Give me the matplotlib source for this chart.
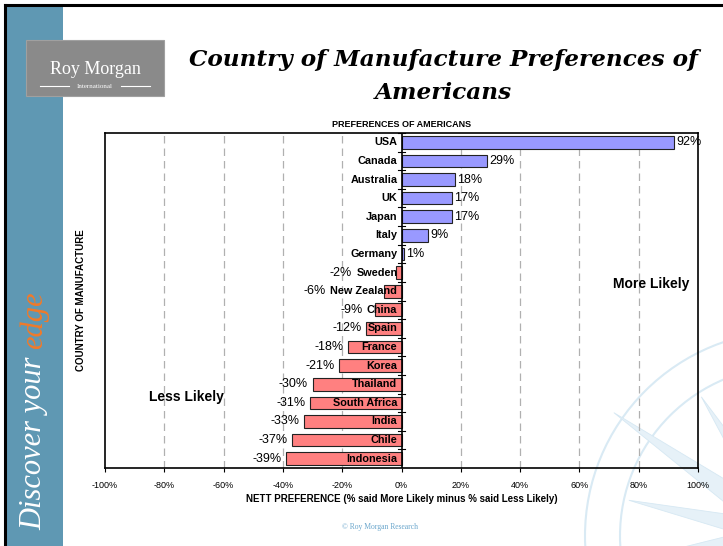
import numpy as np
import matplotlib
matplotlib.use("Agg")
import matplotlib.pyplot as plt
from matplotlib.patches import Rectangle, Polygon, Circle
from matplotlib.lines import Line2D

countries = ["USA", "Canada", "Australia", "UK", "Japan", "Italy", "Germany",
             "Sweden", "New Zealand", "China", "Spain", "France", "Korea",
             "Thailand", "South Africa", "India", "Chile", "Indonesia"]
nett = [92, 29, 18, 17, 17, 9, 1, -2, -6, -9, -12, -18, -21, -30, -31, -33, -37, -39]
xticks = [-100, -80, -60, -40, -20, 0, 20, 40, 60, 80, 100]

fig = plt.figure(figsize=(7.23, 5.46), dpi=100)
fig.patch.set_facecolor("white")

# slide decoration: sidebar, frame, compass watermark
fig.add_artist(Rectangle((7 / 723, 0), 56 / 723, 1 - 6 / 546, transform=fig.transFigure,
                         facecolor="#5f98b3", edgecolor="none", zorder=0))
fig.add_artist(Line2D([5 / 723, 5 / 723], [0, 1 - 5 / 546], transform=fig.transFigure,
                      color="black", lw=2.2, zorder=1))
fig.add_artist(Line2D([5 / 723, 1], [1 - 5 / 546, 1 - 5 / 546], transform=fig.transFigure,
                      color="black", lw=2.2, zorder=1))

cx, cy = 790, 10  # compass centre in pixels from bottom-left
wm = "#e6f1f8"
for r in (170, 205):
    fig.add_artist(Circle((cx, cy), r, transform=None, fill=False, edgecolor="#d9eaf4",
                          lw=1.5, zorder=0))
for k in range(16):
    a = np.deg2rad(k * 22.5 + 10)
    L = 215 if k % 2 == 0 else 165
    w = 0.09 if k % 2 == 0 else 0.07
    pts = [(cx, cy),
           (cx + 45 * np.cos(a + w * 3), cy + 45 * np.sin(a + w * 3)),
           (cx + L * np.cos(a), cy + L * np.sin(a)),
           (cx + 45 * np.cos(a - w * 3), cy + 45 * np.sin(a - w * 3))]
    fig.add_artist(Polygon(pts, closed=True, transform=None, facecolor=wm,
                           edgecolor="#d6e8f3", lw=0.6, zorder=0))

# logo
fig.add_artist(Rectangle((26 / 723, 1 - 96 / 546), 138 / 723, 56 / 546, transform=fig.transFigure,
                         facecolor="#8a8a8a", edgecolor="#a0a0a0", lw=0.8, zorder=2))
fig.text(95 / 723, 1 - 70 / 546, "Roy Morgan", family="Liberation Serif", fontsize=13,
         color="white", ha="center", va="center", zorder=3)
fig.text(95 / 723, 1 - 86 / 546, "International", family="Liberation Serif", fontsize=5,
         color="white", ha="center", va="center", zorder=3)
for x0, x1 in ((40, 69), (121, 150)):
    fig.add_artist(Line2D([x0 / 723, x1 / 723], [1 - 86 / 546] * 2, transform=fig.transFigure,
                          color="white", lw=0.8, zorder=3))

# title
for yy, line in ((60, "Country of Manufacture Preferences of"), (93, "Americans")):
    fig.text(443 / 723, 1 - yy / 546, line, family="DejaVu Serif", fontweight="bold",
             style="italic", fontsize=16.7, ha="center", va="center")

# vertical slogan, two colours
renderer = fig.canvas.get_renderer()
t1 = fig.text(34 / 723, 1 - 530 / 546, "Discover your ", family="Liberation Serif",
              style="italic", fontsize=22, color="white", rotation=90,
              ha="left", va="center", rotation_mode="anchor")
bb = t1.get_window_extent(renderer).transformed(fig.transFigure.inverted())
fig.text(34 / 723, bb.y1, "edge", family="Liberation Serif", style="italic",
         fontsize=22, color="#f07a2a", rotation=90, ha="left", va="center",
         rotation_mode="anchor")

# chart
ax = fig.add_axes([105 / 723, 1 - 468 / 546, 593 / 723, 335 / 546])
ax.set_facecolor("none")
y = np.arange(len(countries))
colors = ["#9999ff" if v >= 0 else "#ff8080" for v in nett]
ax.barh(y, nett, height=0.68, color=colors, edgecolor="#222222", linewidth=0.8, zorder=3)
ax.set_xlim(-100, 100)
ax.set_ylim(len(countries) - 0.5, -0.5)
ax.axvline(0, color="black", lw=1.2, zorder=4)

ax.set_xticks(xticks)
ax.set_xticklabels([f"{t}%" for t in xticks], fontsize=6.5, family="Liberation Sans")
ax.tick_params(axis="x", length=3, direction="out", width=0.8, pad=6)
ax.set_yticks([])
for t in xticks[1:-1]:
    if t != 0:
        ax.axvline(t, color="#b0b0b0", lw=0.9, ls=(0, (6, 4)), zorder=1)
for b in np.arange(-0.5, len(countries) + 0.5):
    ax.plot([-1.2, 1.2], [b, b], color="black", lw=0.8, zorder=5)
for s in ax.spines.values():
    s.set_linewidth(1.2)

ax.set_title("PREFERENCES OF AMERICANS", fontsize=6.5, fontweight="bold",
             family="Liberation Sans", pad=4)
ax.set_xlabel("NETT PREFERENCE (% said More Likely minus % said Less Likely)",
              fontsize=7, fontweight="bold", family="Liberation Sans", labelpad=3)
ax.set_ylabel("COUNTRY OF MANUFACTURE", fontsize=7, fontweight="bold",
              family="Liberation Sans", labelpad=14)

inv = ax.transData.inverted()
for i, (name, v) in enumerate(zip(countries, nett)):
    lab = ax.text(-1.4, i, name, ha="right", va="center", fontsize=7.8,
                  fontweight="bold", family="Liberation Sans", zorder=6)
    if v >= 0:
        ax.text(v + 0.6, i, f"{v}%", ha="left", va="center", fontsize=9,
                family="Liberation Sans", zorder=6)
    else:
        left = inv.transform(lab.get_window_extent(renderer).get_points())[0, 0]
        xpos = min(v, left) - 1.5
        ax.text(xpos, i, f"{v}%", ha="right", va="center", fontsize=9,
                family="Liberation Sans", zorder=6)

ax.text(-85, 13.7, "Less Likely", fontsize=10, fontweight="bold",
        family="Liberation Sans", ha="left", va="center")
ax.text(97, 7.6, "More Likely", fontsize=10, fontweight="bold",
        family="Liberation Sans", ha="right", va="center")

fig.text(380 / 723, 1 - 527 / 546, "\u00a9 Roy Morgan Research", family="Liberation Serif",
         fontsize=5.5, color="#6aa6cc", ha="center", va="center")

fig.savefig("out.png", dpi=100)
